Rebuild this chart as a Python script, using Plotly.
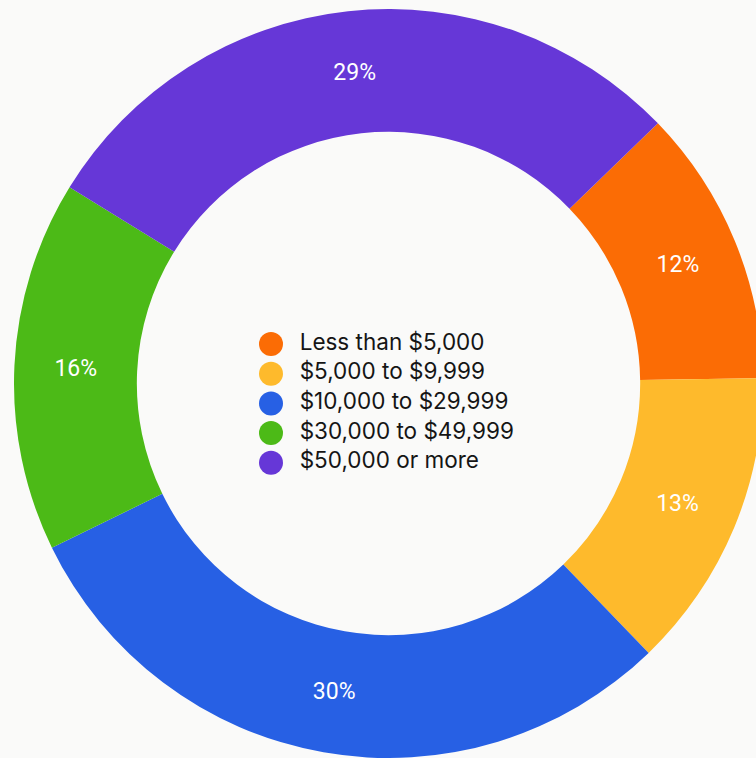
import plotly.graph_objects as go

# Household income brackets and their share of the total
categories = [
    "Less than $5,000",
    "$5,000 to $9,999",
    "$10,000 to $29,999",
    "$30,000 to $49,999",
    "$50,000 or more",
]
shares = [12, 13, 30, 16, 29]
colors = ["#FB6C05", "#FEBA2C", "#2760E4", "#4CBA17", "#6637D7"]

bg = "#FAFAF9"
legend_font = "Inter, Roboto, sans-serif"
label_font = "Roboto, Inter, sans-serif"

fig = go.Figure()

fig.add_trace(go.Pie(
    labels=categories,
    values=shares,
    marker=dict(colors=colors, line=dict(width=0)),
    hole=0.672,
    sort=False,
    direction="clockwise",
    rotation=46,
    textinfo="percent",
    texttemplate="%{percent:.0%}",
    textposition="inside",
    insidetextorientation="horizontal",
    textfont=dict(family=label_font, size=23, color="white"),
    showlegend=False,
    hoverinfo="label+percent",
))

# Legend in the centre of the ring, drawn as circle markers with labels
legend_x = [271] * len(categories)
legend_y = [344 + 29.7 * i for i in range(len(categories))]
fig.add_trace(go.Scatter(
    x=legend_x,
    y=legend_y,
    mode="markers+text",
    marker=dict(size=24, color=colors, line=dict(width=0)),
    text=["\u00a0\u00a0" + c for c in categories],
    textposition="middle right",
    textfont=dict(family=legend_font, size=22.5, color="#151515"),
    hoverinfo="skip",
    showlegend=False,
    cliponaxis=False,
))

fig.update_layout(
    width=763,
    height=758,
    margin=dict(l=14, r=0, t=9, b=0, pad=0),
    paper_bgcolor=bg,
    plot_bgcolor=bg,
    showlegend=False,
    xaxis=dict(visible=False, range=[14, 763], fixedrange=True),
    yaxis=dict(visible=False, range=[758, 9], fixedrange=True),
)

fig.write_html(
    "out.html",
    post_script="document.body.style.margin='0';"
                "document.body.style.overflow='hidden';"
                "document.documentElement.style.overflow='hidden';",
)
